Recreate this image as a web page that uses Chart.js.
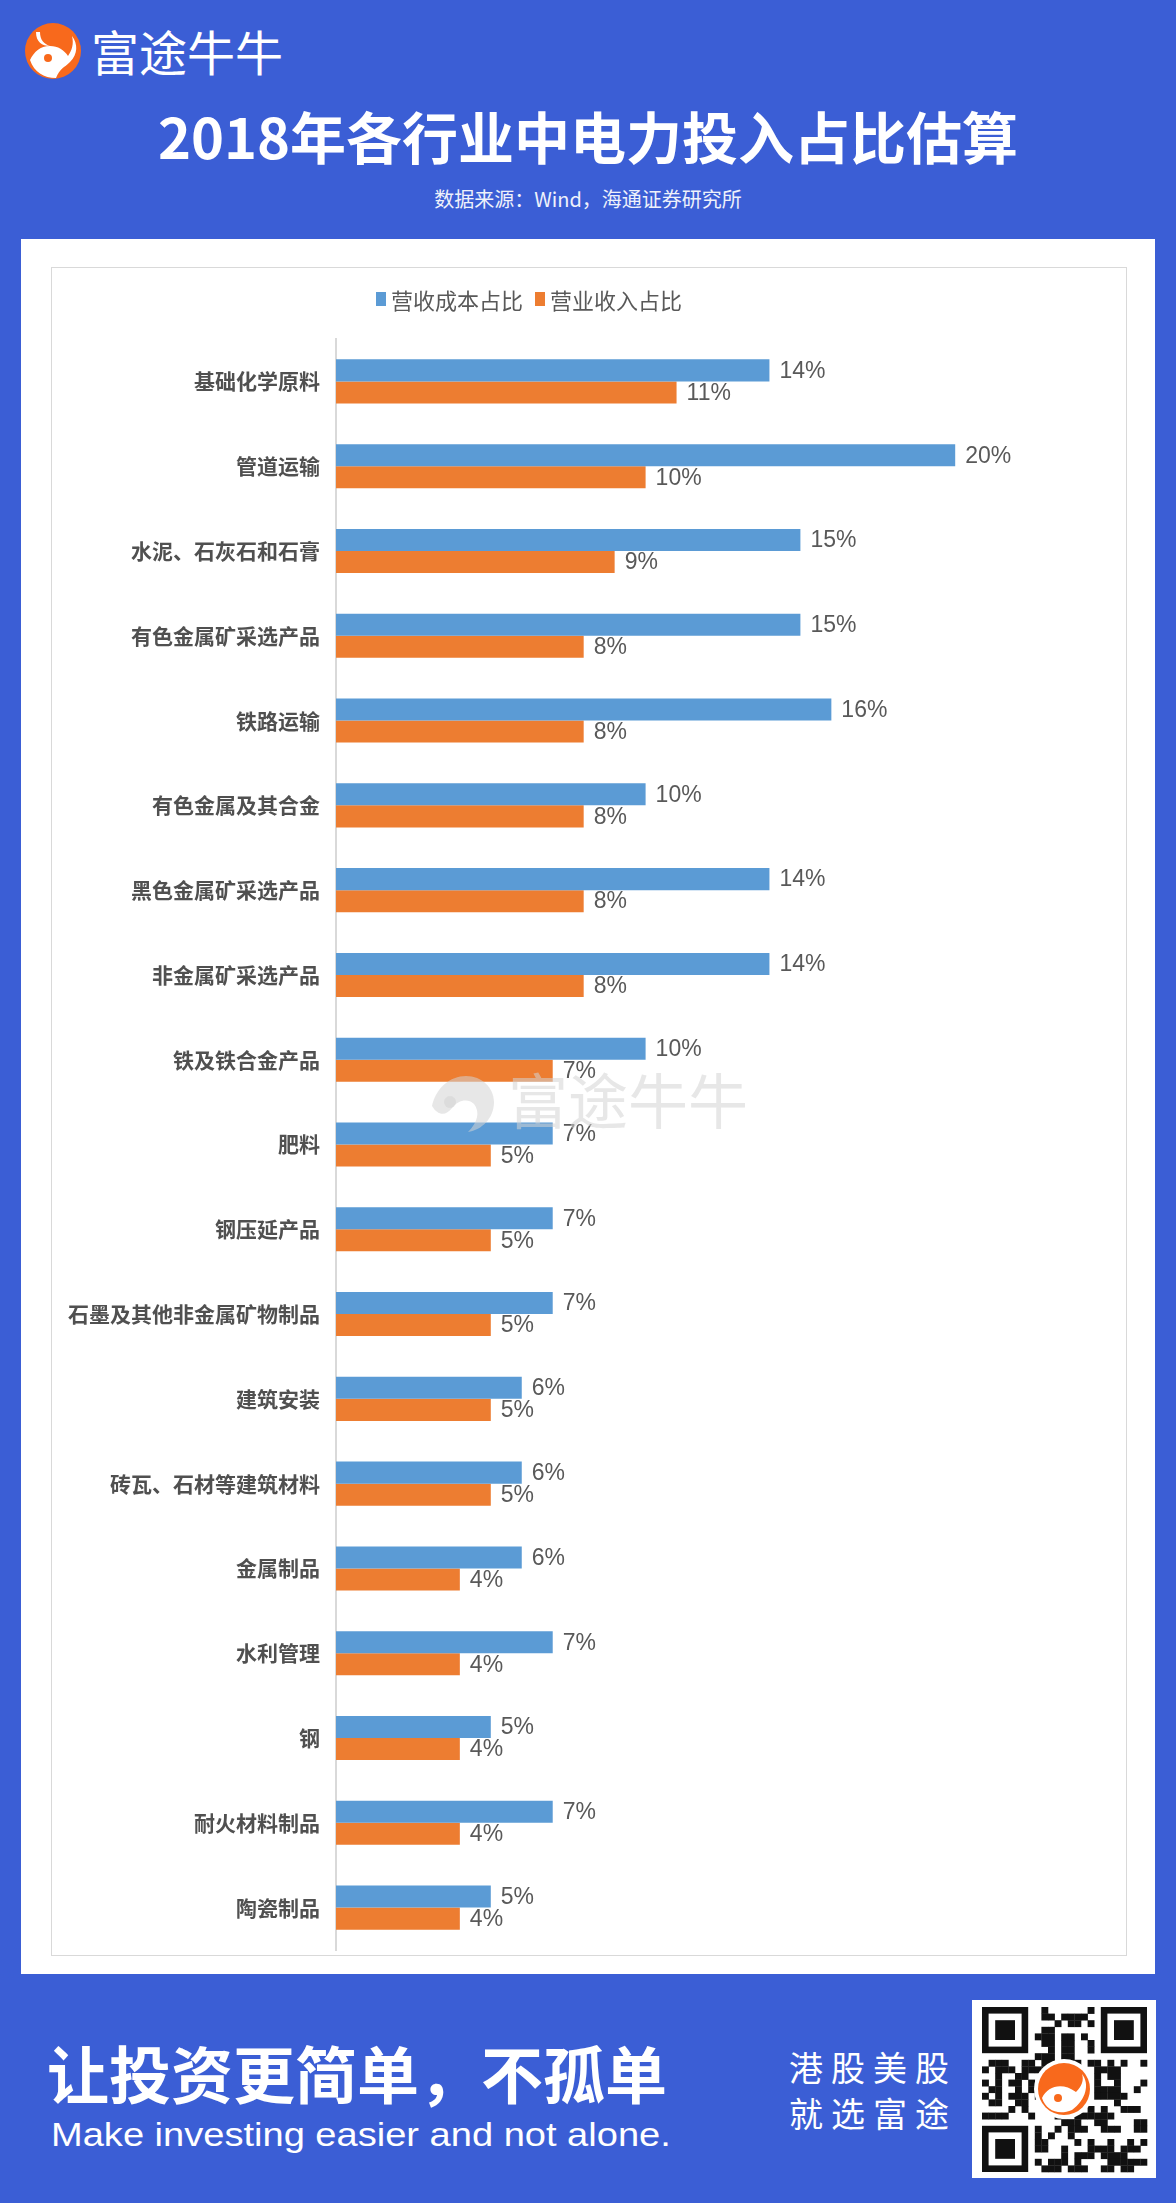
<!DOCTYPE html>
<html>
<head>
<meta charset="utf-8">
<script src="https://cdn.jsdelivr.net/npm/chart.js@4.4.1/dist/chart.umd.min.js"></script>
<style>
  html, body { margin: 0; padding: 0; }
  body {
    width: 1176px; height: 2203px; position: relative; overflow: hidden;
    background: #3b5ed5;
    font-family: "Noto Sans CJK SC", "Liberation Sans", sans-serif;
  }
  .abs { position: absolute; }
  #brand { left: 91px; top: 20px; font-size: 48px; color: #fff; line-height: 60px; }
  #title { left: 0; width: 1176px; top: 100px; text-align: center; color: #fff;
           font-size: 56px; font-weight: bold; line-height: 70px; }
  #source { left: 0; width: 1176px; top: 185px; text-align: center; color: #eef1fb;
            font-size: 20px; line-height: 28px; }
  #panel { left: 21px; top: 239px; width: 1134px; height: 1735px; background: #fff; }
  #frame { left: 51px; top: 267px; width: 1074px; height: 1687px; border: 1px solid #d9d9d9; }
  #chartCanvas { left: 51px; top: 267px; }
  #legend { left: 376px; top: 285px; height: 28px; display: flex; align-items: center;
            font-size: 22px; color: #595959; }
  #legend .box { width: 10px; height: 14px; margin-right: 5px; }
  #legend .item { display: flex; align-items: center; margin-right: 12px; }
  #slogan { left: 47px; top: 2034px; font-size: 62px; font-weight: bold; color: #fff; line-height: 76px; }
  #slogan-en { left: 51px; top: 2112px; font-size: 34px; color: #fff; line-height: 44px;
               font-family: "Liberation Sans", sans-serif; white-space: nowrap; transform-origin: left center; }
  .side { left: 789px; font-size: 34px; color: #fff; letter-spacing: 8px; line-height: 44px; }
</style>
</head>
<body>
<!-- 顶部品牌 -->
<svg class="abs" style="left:24px;top:22px" width="60" height="60" viewBox="0 0 60 60">
  <circle cx="29" cy="29" r="28" fill="#f8691c"/>
  <path d="M6 38 C10 30 16 24 26 24 C34 24 40 28 44 34 C48 28 50 22 48 14 C54 22 54 32 46 40 C40 46 36 46 32 56 C20 56 10 50 6 38 Z" fill="#fff"/>
  <path d="M12 10 C12 20 18 24 26 24 C20 22 16 18 16 10 Z" fill="#fff"/>
  <circle cx="24" cy="36" r="4" fill="#f8691c"/>
</svg>
<div id="brand" class="abs">富途牛牛</div>
<div id="title" class="abs">2018年各行业中电力投入占比估算</div>
<div id="source" class="abs">数据来源：Wind，海通证券研究所</div>

<div id="panel" class="abs"></div>
<div id="frame" class="abs"></div>
<canvas id="chartCanvas" class="abs" width="1076" height="1689"></canvas>
<div id="legend" class="abs"></div>

<!-- 水印 -->
<svg class="abs" style="left:428px;top:1062px" width="330" height="72" viewBox="0 0 330 72">
  <g fill="#d4d4d4" fill-opacity="0.55">
    <path d="M4 44 C8 26 22 14 38 14 C54 14 66 26 66 40 C66 56 54 68 40 70 C50 60 52 50 46 42 C40 36 30 38 24 46 C18 54 10 54 4 44 Z"/>
    <circle cx="22" cy="40" r="6"/>
    <text x="80" y="62" font-size="60" font-family="Noto Sans CJK SC">富途牛牛</text>
  </g>
</svg>

<!-- 底部 -->
<div id="slogan" class="abs">让投资更简单，不孤单</div>
<div id="slogan-en" class="abs">Make investing easier and not alone.</div>
<div class="abs side" style="top:2045px">港股美股</div>
<div class="abs side" style="top:2091px">就选富途</div>
<canvas id="qr" class="abs" style="left:972px;top:2000px" width="184" height="178"></canvas>

<script>
// 类别和两组数值（百分比）
const categories = [
  '基础化学原料', '管道运输', '水泥、石灰石和石膏', '有色金属矿采选产品', '铁路运输',
  '有色金属及其合金', '黑色金属矿采选产品', '非金属矿采选产品', '铁及铁合金产品', '肥料',
  '钢压延产品', '石墨及其他非金属矿物制品', '建筑安装', '砖瓦、石材等建筑材料', '金属制品',
  '水利管理', '钢', '耐火材料制品', '陶瓷制品'
];
const seriesNames = ['营收成本占比', '营业收入占比'];
const costShare    = [14, 20, 15, 15, 16, 10, 14, 14, 10, 7, 7, 7, 6, 6, 6, 7, 5, 7, 5];
const revenueShare = [11, 10,  9,  8,  8,  8,  8,  8,  7, 5, 5, 5, 5, 5, 4, 4, 4, 4, 4];
const seriesColors = ['#5b9bd5', '#ed7d31'];

// 图例
const legendEl = document.getElementById('legend');
seriesNames.forEach((name, i) => {
  const item = document.createElement('div');
  item.className = 'item';
  item.innerHTML = '<div class="box" style="background:' + seriesColors[i] + '"></div>' + name;
  legendEl.appendChild(item);
});

// 柱子末端的百分比标签
const valueLabels = {
  id: 'valueLabels',
  afterDatasetsDraw(chart) {
    const ctx = chart.ctx;
    ctx.save();
    ctx.font = '23px "Liberation Sans", sans-serif';
    ctx.fillStyle = '#595959';
    ctx.textAlign = 'left';
    ctx.textBaseline = 'middle';
    chart.data.datasets.forEach((ds, di) => {
      chart.getDatasetMeta(di).data.forEach((bar, i) => {
        ctx.fillText(ds.data[i] + '%', bar.x + 10, bar.y + 1);
      });
    });
    ctx.restore();
  }
};

new Chart(document.getElementById('chartCanvas'), {
  type: 'bar',
  data: {
    labels: categories,
    datasets: [{
      label: seriesNames[0],
      data: costShare,
      backgroundColor: seriesColors[0],
      categoryPercentage: 0.52,
      barPercentage: 1.0
    }, {
      label: seriesNames[1],
      data: revenueShare,
      backgroundColor: seriesColors[1],
      categoryPercentage: 0.52,
      barPercentage: 1.0
    }]
  },
  options: {
    indexAxis: 'y',
    responsive: false,
    animation: false,
    layout: { padding: { top: 72, right: 17, bottom: 6, left: 0 } },
    plugins: { legend: { display: false }, tooltip: { enabled: false } },
    scales: {
      x: { display: false, min: 0, max: 25 },
      y: {
        grid: { display: false },
        border: { color: '#d9d9d9', width: 2 },
        ticks: {
          padding: 8,
          color: '#505050',
          font: { size: 21, family: '"Noto Sans CJK SC", sans-serif', weight: 'bold' }
        },
        afterFit(scale) {
          scale.width = 285;
          scale.paddingTop = 0;
          scale.paddingBottom = 0;
        }
      }
    }
  },
  plugins: [valueLabels]
});

// 英文标语宽度对齐
const en = document.getElementById('slogan-en');
en.style.transform = 'scaleX(' + (620 / en.offsetWidth) + ')';

// 二维码装饰
(function drawQr() {
  const c = document.getElementById('qr');
  const ctx = c.getContext('2d');
  ctx.fillStyle = '#fff';
  ctx.fillRect(0, 0, 184, 178);
  const n = 25, cell = 6.6, ox = 10, oy = 7;
  let seed = 7;
  const next = () => { seed = (seed * 1103515245 + 12345) & 0x7fffffff; return seed / 0x7fffffff; };
  ctx.fillStyle = '#111';
  for (let r = 0; r < n; r++) {
    for (let q = 0; q < n; q++) {
      const inFinder = (r < 8 && q < 8) || (r < 8 && q >= n - 8) || (r >= n - 8 && q < 8);
      if (inFinder) continue;
      if (next() < 0.5) ctx.fillRect(ox + q * cell, oy + r * cell, cell + 0.3, cell + 0.3);
    }
  }
  const finder = (q, r) => {
    ctx.fillStyle = '#111';
    ctx.fillRect(ox + q * cell, oy + r * cell, 7 * cell, 7 * cell);
    ctx.fillStyle = '#fff';
    ctx.fillRect(ox + (q + 1) * cell, oy + (r + 1) * cell, 5 * cell, 5 * cell);
    ctx.fillStyle = '#111';
    ctx.fillRect(ox + (q + 2) * cell, oy + (r + 2) * cell, 3 * cell, 3 * cell);
  };
  finder(0, 0); finder(n - 7, 0); finder(0, n - 7);
  ctx.fillStyle = '#fff';
  ctx.beginPath(); ctx.arc(92, 89, 30, 0, Math.PI * 2); ctx.fill();
  ctx.fillStyle = '#f8691c';
  ctx.beginPath(); ctx.arc(92, 89, 26, 0, Math.PI * 2); ctx.fill();
  ctx.fillStyle = '#fff';
  ctx.beginPath();
  ctx.moveTo(70, 98); ctx.bezierCurveTo(76, 86, 90, 82, 104, 92);
  ctx.bezierCurveTo(110, 86, 112, 80, 110, 74);
  ctx.bezierCurveTo(118, 84, 114, 100, 100, 110);
  ctx.bezierCurveTo(86, 116, 74, 110, 70, 98); ctx.fill();
  ctx.fillStyle = '#f8691c';
  ctx.beginPath(); ctx.arc(86, 98, 4, 0, Math.PI * 2); ctx.fill();
})();
</script>
</body>
</html>
